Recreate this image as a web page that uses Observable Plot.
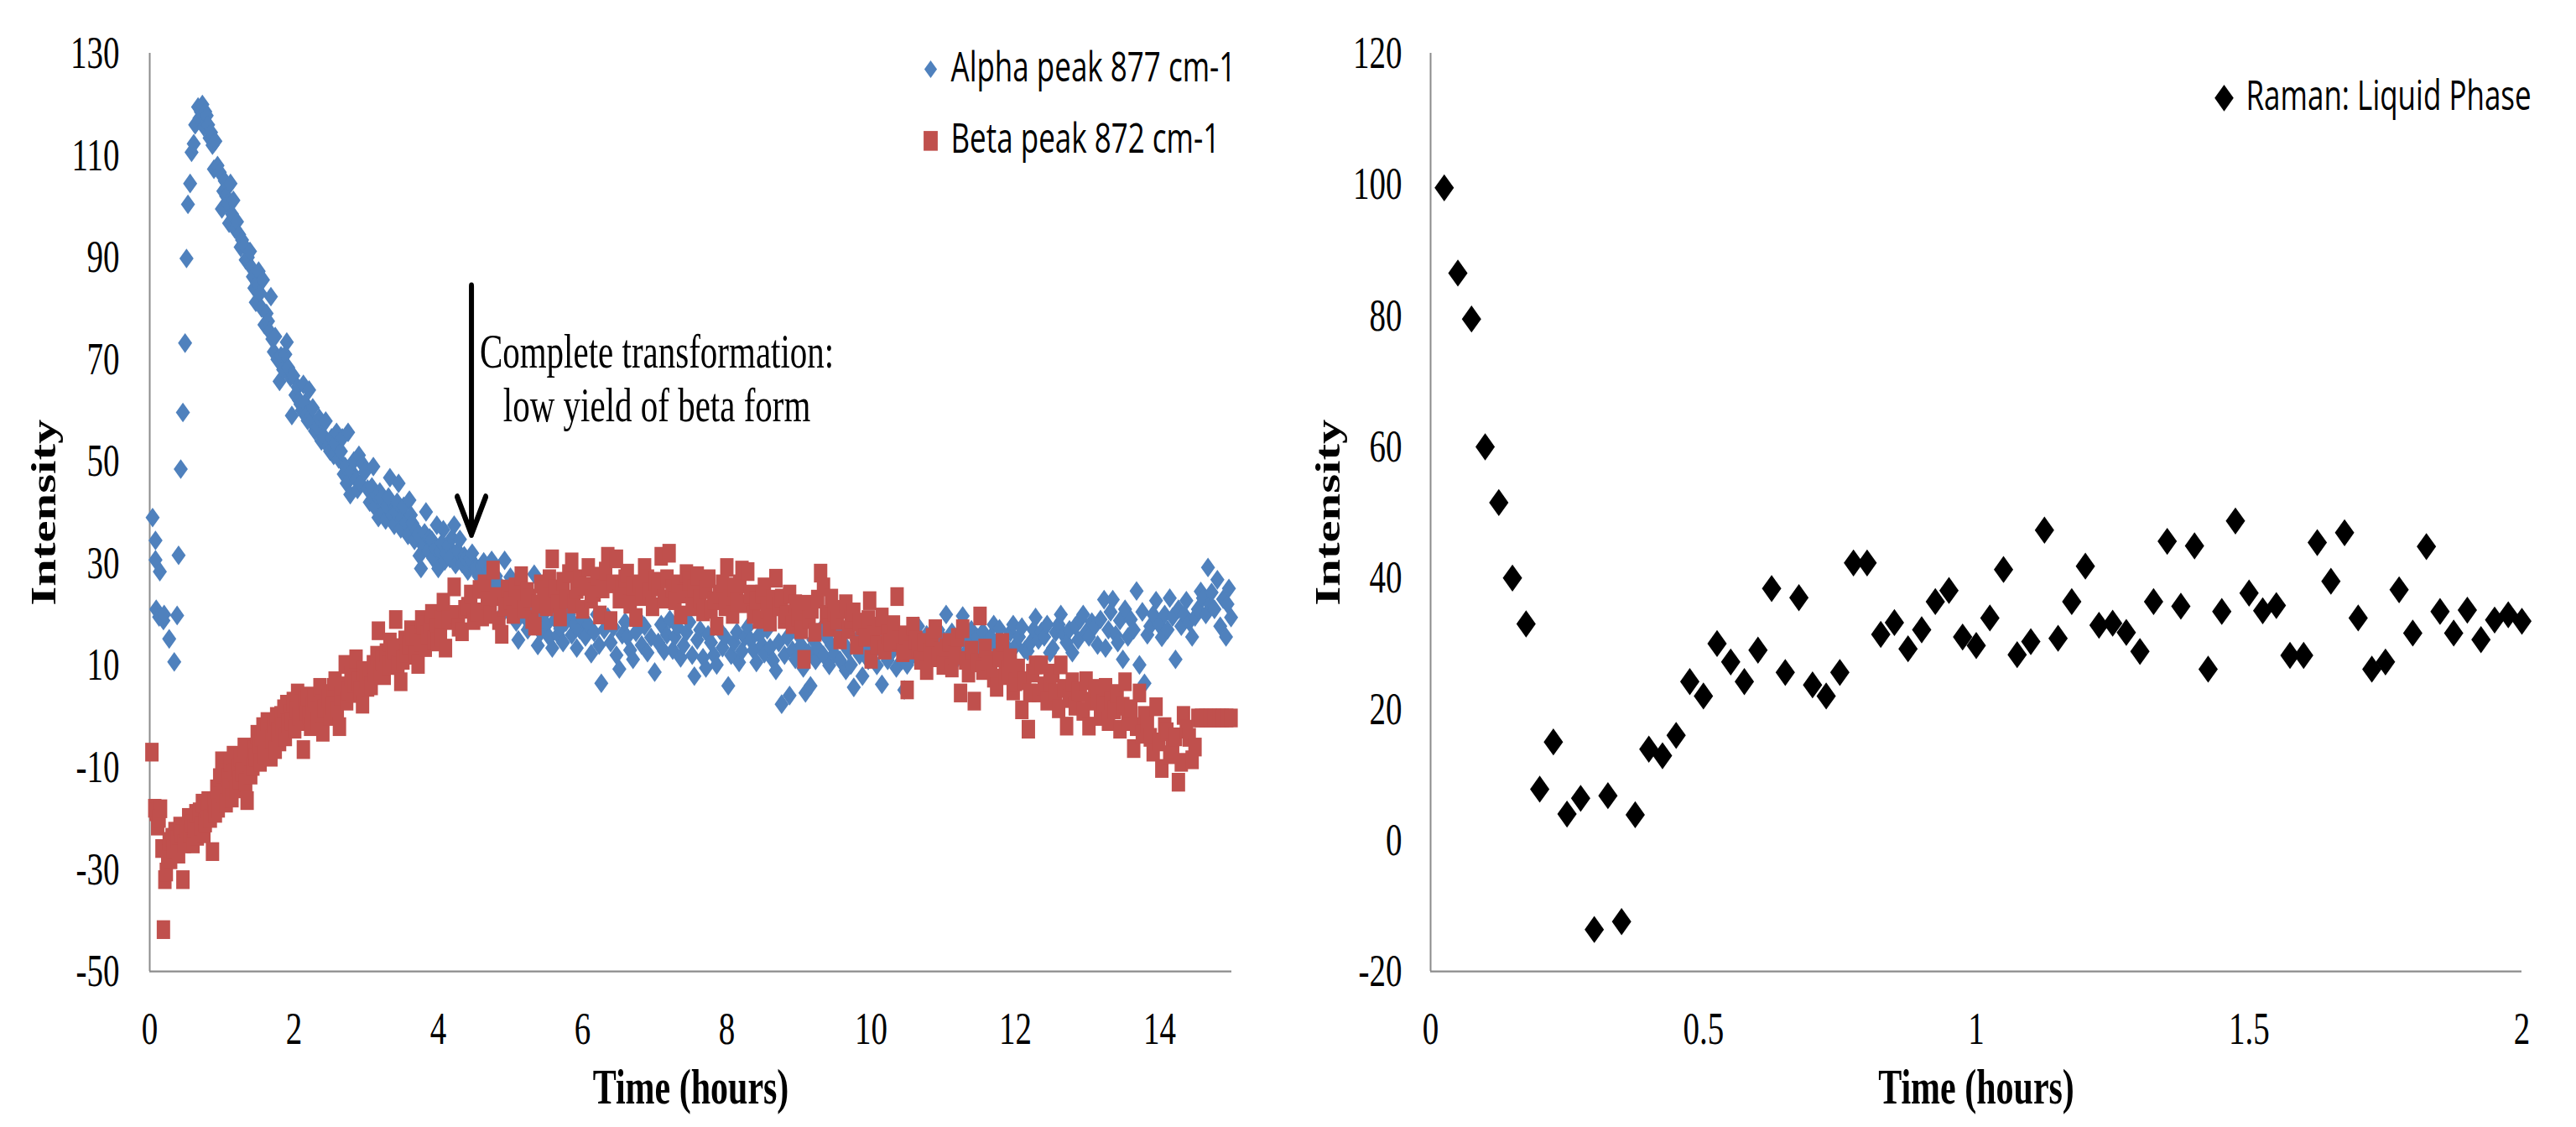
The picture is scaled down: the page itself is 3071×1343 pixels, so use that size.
<!DOCTYPE html>
<html><head><meta charset="utf-8">
<script src="https://cdn.jsdelivr.net/npm/d3@7"></script>
<script src="https://cdn.jsdelivr.net/npm/@observablehq/plot@0.6"></script>
<style>
html,body{margin:0;padding:0;background:#fff;width:3071px;height:1343px;overflow:hidden;}
#left{position:absolute;left:0;top:0;}
#right{position:absolute;left:1540px;top:0;}
</style></head><body>
<div id="left"></div><div id="right"></div>
<script>
// ---------- data (time in hours, intensity) ----------
const alpha = [[0.04,39],[0.08,34.5],[0.08,30.7],[0.14,28.4],[0.09,21],[0.13,19.5],[0.19,18.8],[0.2,20],[0.27,15.2],[0.34,10.7],[0.38,19.8],[0.4,31.6],[0.43,48.5],[0.46,59.6],[0.49,73.2],[0.51,89.8],[0.53,100.4],[0.56,104.5],[0.58,110.6],[0.61,112.3],[0.63,116],[0.67,119.5],[0.69,117.3],[0.71,118.5],[0.73,120],[0.75,115.6],[0.77,118.6],[0.79,117.8],[0.81,116],[0.83,113.4],[0.85,114.5],[0.87,112],[0.89,107.3],[0.91,112.8],[0.94,108],[0.97,106.7],[1.0,99.5],[1.02,103],[1.04,105],[1.06,102],[1.08,100.6],[1.1,96.7],[1.12,104.5],[1.14,98.5],[1.16,101.2],[1.18,95.6],[1.21,97],[1.24,94.5],[1.26,92],[1.28,93.4],[1.31,92.3],[1.33,89.5],[1.36,90],[1.39,91.2],[1.41,88],[1.43,86.2],[1.45,84],[1.47,81.2],[1.49,85],[1.51,87.3],[1.53,83],[1.55,80.1],[1.57,85.6],[1.59,76.8],[1.62,79],[1.64,77.5],[1.66,75.5],[1.68,82.3],[1.7,74],[1.72,71.5],[1.74,74.5],[1.77,70],[1.8,65.7],[1.82,70.7],[1.85,68],[1.88,71],[1.9,73.4],[1.92,68.4],[1.95,66.5],[1.97,59],[1.99,66.8],[2.02,63],[2.05,64.6],[2.07,62],[2.09,61.2],[2.11,60],[2.13,65.1],[2.15,61.5],[2.17,59],[2.19,58],[2.21,64],[2.24,57.9],[2.26,60.5],[2.29,56],[2.32,56.8],[2.35,58.5],[2.38,54],[2.41,55],[2.44,57.9],[2.47,53],[2.5,52],[2.52,54.6],[2.55,51.2],[2.57,53.5],[2.59,55.7],[2.62,50.5],[2.65,52],[2.67,54.6],[2.69,47.5],[2.71,49],[2.73,45.7],[2.75,55.7],[2.78,43.5],[2.8,48],[2.83,50.1],[2.86,46.5],[2.88,44.5],[2.9,51.2],[2.92,45.7],[2.95,49.5],[2.98,47.9],[3.02,44.6],[3.05,42],[3.08,45],[3.1,49],[3.12,41],[3.14,43.5],[3.17,39],[3.19,44],[3.21,42.9],[3.24,40],[3.27,38.5],[3.29,41.2],[3.31,43],[3.33,46.8],[3.36,39.5],[3.39,37.5],[3.41,40.1],[3.43,42],[3.45,45.7],[3.48,36.8],[3.5,39],[3.52,41.2],[3.55,38],[3.58,35.5],[3.6,42.4],[3.62,39.5],[3.64,37.9],[3.67,34.5],[3.7,36.5],[3.72,35.7],[3.74,31.5],[3.76,29],[3.79,33.5],[3.81,36],[3.83,40.1],[3.86,32.5],[3.88,35],[3.91,34.6],[3.93,31],[3.96,33],[3.98,37.5],[4.0,29],[4.03,32.4],[4.05,34],[4.07,36.6],[4.09,30.5],[4.11,32],[4.14,33.5],[4.16,31],[4.19,35],[4.22,37.5],[4.24,29.8],[4.27,32.5],[4.3,34.7],[4.33,30],[4.36,31.5],[4.38,30.9],[4.41,28.5],[4.44,31],[4.47,32],[4.5,29],[4.53,29.2],[4.56,27.5],[4.6,29.5],[4.63,30.3],[4.66,27],[4.7,28.5],[4.74,30.6],[4.76,25.4],[4.8,27.5],[4.84,26],[4.88,19.9],[4.92,30.6],[4.96,24],[5.0,27.3],[5.04,21],[5.08,18.5],[5.11,15],[5.15,22],[5.2,19.5],[5.24,17],[5.27,17.7],[5.31,21],[5.33,27.9],[5.36,19],[5.38,13.9],[5.42,16.5],[5.46,20],[5.5,18],[5.54,15.5],[5.58,13.4],[5.62,19],[5.66,16],[5.69,17.2],[5.73,14.5],[5.77,18.5],[5.81,20],[5.85,16],[5.89,18],[5.92,13.4],[5.96,17],[6.0,19],[6.04,15.6],[6.08,18],[6.12,12.3],[6.16,16.5],[6.2,20],[6.23,14],[6.26,6.5],[6.3,17],[6.35,19.5],[6.39,14.5],[6.43,17.5],[6.47,12],[6.51,9.3],[6.55,16],[6.59,18.5],[6.62,15.6],[6.66,13],[6.7,11.2],[6.74,16.5],[6.78,19],[6.82,14],[6.86,17.7],[6.9,12.5],[6.95,15.5],[7.0,8.7],[7.05,14.5],[7.09,18],[7.13,12.8],[7.17,16],[7.21,19],[7.25,13],[7.28,15.6],[7.32,17.5],[7.36,11.5],[7.4,13.9],[7.44,16.5],[7.48,18.5],[7.52,12],[7.55,7.9],[7.59,15],[7.63,17],[7.67,11.5],[7.71,9.5],[7.74,16],[7.78,14.5],[7.82,12],[7.86,10.1],[7.9,17],[7.94,13.5],[7.98,15.5],[8.02,6],[8.06,12],[8.1,14.5],[8.14,16.5],[8.17,10.6],[8.21,12.8],[8.25,15.5],[8.29,17.5],[8.33,15],[8.37,13],[8.41,10.6],[8.45,16],[8.49,14],[8.52,12.3],[8.56,17],[8.6,13.5],[8.64,11],[8.68,9],[8.72,14.5],[8.76,2.4],[8.8,12],[8.84,15.5],[8.87,4.1],[8.91,13],[8.95,11.2],[8.99,16],[9.03,14],[9.06,9.5],[9.09,4.6],[9.13,12.5],[9.16,6],[9.2,15],[9.23,11],[9.26,13.4],[9.3,17],[9.34,12],[9.38,15.6],[9.42,10],[9.45,14],[9.49,12.3],[9.53,16.5],[9.57,11],[9.61,14.5],[9.65,9],[9.68,13],[9.72,10.1],[9.76,5.7],[9.8,15],[9.84,12],[9.88,7.9],[9.92,14],[9.96,11],[10.0,12.8],[10.04,16],[10.08,10],[10.11,13.5],[10.15,6.3],[10.19,15],[10.23,11],[10.27,12.3],[10.31,16.5],[10.35,9.5],[10.39,13.5],[10.43,11],[10.46,5.2],[10.5,10.1],[10.54,14.5],[10.58,12],[10.62,15.5],[10.65,17.7],[10.69,11.5],[10.73,13.5],[10.77,16],[10.81,15.6],[10.85,12],[10.89,14],[10.93,17],[10.97,11.5],[11.0,15],[11.04,20],[11.08,13],[11.12,16.5],[11.16,13.4],[11.2,11.5],[11.24,15],[11.27,19.7],[11.31,12.5],[11.35,14.5],[11.39,17],[11.43,12],[11.47,15.5],[11.51,13],[11.55,16.6],[11.59,14],[11.62,12],[11.66,15.6],[11.7,18],[11.74,13.5],[11.78,17.2],[11.82,14.5],[11.86,12],[11.89,13.4],[11.93,16.5],[11.97,18],[12.01,14],[12.05,15.6],[12.09,17.5],[12.13,13],[12.17,12.8],[12.21,14.5],[12.25,17],[12.28,19.4],[12.32,15],[12.36,16.6],[12.4,15.6],[12.44,18],[12.48,12.5],[12.52,13.4],[12.56,16.5],[12.6,18],[12.63,20],[12.67,16],[12.71,14.5],[12.75,17],[12.79,12.5],[12.83,17.7],[12.87,15],[12.9,19],[12.94,20],[12.98,16.5],[13.02,15.6],[13.06,18.5],[13.1,17.7],[13.14,14],[13.18,19],[13.23,22.9],[13.25,13.4],[13.29,17],[13.32,20.5],[13.35,22.9],[13.39,16],[13.42,14.5],[13.45,18.8],[13.49,11.2],[13.52,21],[13.56,15.6],[13.6,19],[13.64,17],[13.68,24.6],[13.72,10.1],[13.76,20.5],[13.79,6.5],[13.83,16],[13.87,17.7],[13.91,20],[13.95,22.7],[13.99,18],[14.03,15.5],[14.07,20],[14.11,17],[14.14,23.2],[14.18,19.5],[14.22,11.2],[14.26,21],[14.3,17.7],[14.34,20],[14.37,22.7],[14.41,18.5],[14.45,15.6],[14.49,19.5],[14.53,21],[14.57,24.5],[14.6,23.2],[14.64,20],[14.67,29.2],[14.7,22],[14.72,24.3],[14.76,21],[14.8,26.8],[14.84,17.7],[14.88,23],[14.92,15.6],[14.94,22],[14.96,25.1],[14.99,19.4]];

const beta = [[0.03,-7],[0.07,-18],[0.09,-18.7],[0.11,-21.5],[0.13,-20],[0.15,-18.1],[0.17,-25.9],[0.19,-41.8],[0.21,-32],[0.23,-30.5],[0.25,-27],[0.27,-24.5],[0.29,-28.1],[0.31,-23.7],[0.33,-26],[0.35,-22.5],[0.38,-24.2],[0.4,-27],[0.42,-21.5],[0.44,-23],[0.46,-32],[0.48,-25],[0.5,-22],[0.52,-24.5],[0.54,-19.8],[0.56,-23],[0.58,-21],[0.6,-25],[0.62,-22],[0.64,-19],[0.66,-23.5],[0.69,-18.7],[0.71,-21.5],[0.73,-17],[0.75,-23],[0.77,-20.9],[0.79,-18],[0.81,-16.5],[0.84,-20],[0.87,-26.5],[0.89,-17],[0.91,-19],[0.93,-14.2],[0.95,-18],[0.97,-12],[1.0,-8.7],[1.02,-15],[1.04,-11],[1.06,-17],[1.08,-12],[1.1,-14],[1.12,-9],[1.14,-16],[1.16,-7.6],[1.18,-11],[1.2,-14.2],[1.22,-10],[1.24,-12.5],[1.26,-8],[1.28,-10.9],[1.31,-6],[1.33,-13],[1.35,-16.5],[1.37,-9],[1.4,-11.5],[1.43,-9.8],[1.45,-6.5],[1.47,-8],[1.49,-3.5],[1.51,-5.4],[1.53,-9],[1.55,-4],[1.57,-2],[1.59,-7.6],[1.61,-5],[1.63,-1],[1.66,-3.1],[1.68,-8],[1.7,-4.5],[1.72,-1.5],[1.74,-6.5],[1.76,0],[1.78,-3],[1.8,-5],[1.82,0.2],[1.84,-2],[1.86,1.5],[1.88,-4],[1.9,2.4],[1.92,-1.5],[1.95,0.5],[1.97,-0.9],[1.99,3],[2.01,-2.5],[2.03,1.5],[2.05,4.6],[2.07,0],[2.09,2.5],[2.11,-1],[2.13,-6.5],[2.15,3],[2.17,1],[2.19,4],[2.21,0.2],[2.23,-2],[2.26,2],[2.28,3.5],[2.3,1],[2.33,-1],[2.36,5.7],[2.38,2.5],[2.4,-3.1],[2.42,1.5],[2.45,4.5],[2.48,3.5],[2.5,0],[2.53,2],[2.55,5.7],[2.57,7],[2.6,1],[2.63,-2],[2.65,4],[2.68,6],[2.71,10.2],[2.73,3],[2.76,5],[2.79,8],[2.81,4.5],[2.84,6.5],[2.86,11.3],[2.89,7],[2.92,5],[2.95,2.4],[2.97,9],[3.0,7.5],[3.02,5.7],[3.05,9],[3.07,6],[3.1,10.2],[3.12,8.5],[3.15,12],[3.17,16.8],[3.2,9],[3.22,11],[3.25,8],[3.28,12.5],[3.31,10],[3.33,14.6],[3.36,11.5],[3.39,13],[3.41,19],[3.44,10],[3.46,13.5],[3.48,6.8],[3.51,11],[3.54,15],[3.56,12.4],[3.59,14],[3.62,17],[3.64,15.7],[3.67,12],[3.7,16],[3.72,10.2],[3.75,14.5],[3.77,19],[3.79,17.9],[3.82,13.5],[3.85,16],[3.88,18],[3.91,20.2],[3.94,15],[3.97,17.5],[3.99,14.6],[4.03,15.6],[4.05,19],[4.07,22.4],[4.1,13.4],[4.14,19],[4.18,18.8],[4.22,25.4],[4.25,20],[4.28,17.5],[4.33,16.6],[4.37,21],[4.41,21.6],[4.45,24],[4.49,18.8],[4.53,20.5],[4.57,24.9],[4.61,19.5],[4.64,26],[4.68,22.7],[4.72,20],[4.76,28.7],[4.8,23.5],[4.84,18.8],[4.88,16.1],[4.92,21.5],[4.96,25],[5.0,22.7],[5.04,20],[5.07,25.4],[5.11,23],[5.15,27.6],[5.19,21],[5.23,24.5],[5.27,23.2],[5.3,19],[5.34,17.7],[5.38,22],[5.42,26],[5.46,24.9],[5.5,21.5],[5.54,27],[5.58,30.9],[5.62,25],[5.65,22.1],[5.69,19.5],[5.73,26.5],[5.77,23],[5.81,28],[5.85,30.3],[5.88,22],[5.92,24.9],[5.96,27],[6.0,21],[6.04,25.5],[6.08,29.2],[6.12,23],[6.16,24.3],[6.2,27.5],[6.24,19.9],[6.28,25],[6.32,28.5],[6.35,31.4],[6.39,18.8],[6.43,26],[6.47,30.9],[6.51,23],[6.55,24.9],[6.59,27],[6.62,28.1],[6.66,22],[6.7,25.5],[6.74,19.4],[6.78,26],[6.82,23.5],[6.86,29.2],[6.9,27],[6.93,24.3],[6.97,21.5],[7.01,26.5],[7.05,25.4],[7.09,31.4],[7.13,23],[7.17,27],[7.2,32],[7.24,25],[7.28,22.7],[7.32,26],[7.36,19.9],[7.4,24],[7.44,28],[7.48,26.5],[7.52,21.5],[7.55,25],[7.59,27.6],[7.63,23],[7.67,20.5],[7.71,24.9],[7.75,27],[7.78,21],[7.82,22.7],[7.86,17.7],[7.9,24],[7.94,26],[7.98,21.5],[8.0,29.2],[8.04,23],[8.08,20],[8.1,25.4],[8.14,22.5],[8.18,26],[8.21,28.7],[8.25,22.1],[8.29,28.4],[8.33,24],[8.37,20],[8.41,22.7],[8.45,19],[8.49,24],[8.52,25.4],[8.56,21],[8.6,18.5],[8.64,23],[8.68,27.1],[8.72,21.5],[8.76,23.2],[8.8,19],[8.83,20],[8.87,24],[8.91,18],[8.95,22.1],[8.99,19.5],[9.03,17],[9.07,11.2],[9.11,22],[9.14,19],[9.18,21],[9.22,16.5],[9.26,23],[9.3,28.1],[9.34,25.4],[9.38,20],[9.42,17.5],[9.45,23.2],[9.49,20.5],[9.53,18.8],[9.57,15],[9.61,21],[9.65,22.1],[9.69,17],[9.72,19],[9.76,20.5],[9.8,14],[9.84,18.5],[9.88,17.7],[9.92,15.5],[9.96,19],[9.98,22.7],[10.0,11.2],[10.04,16],[10.08,14],[10.11,17.7],[10.15,19.5],[10.19,13],[10.23,16.1],[10.27,14.5],[10.31,18],[10.36,23.5],[10.4,15],[10.44,12.5],[10.48,16],[10.5,5.2],[10.54,13],[10.58,17.7],[10.62,15],[10.65,13.4],[10.69,11],[10.73,14.5],[10.77,9],[10.81,12.5],[10.85,15.5],[10.89,17.2],[10.93,11.5],[10.97,12.8],[11.0,10],[11.04,13.5],[11.08,14.5],[11.12,9.5],[11.16,12],[11.2,15.5],[11.24,4.6],[11.27,17.2],[11.31,11],[11.35,8.5],[11.39,13],[11.43,3],[11.47,10.5],[11.51,19.7],[11.55,9],[11.58,13.4],[11.62,11],[11.66,10.1],[11.7,7.5],[11.74,5.7],[11.78,11.5],[11.82,14.5],[11.86,8],[11.89,9],[11.93,11.5],[11.97,5],[12.0,6.8],[12.04,9.5],[12.09,1.3],[12.13,7],[12.18,-2.5],[12.2,4.6],[12.24,8.5],[12.28,10.1],[12.32,4.6],[12.36,10.1],[12.4,6],[12.44,3],[12.48,6.8],[12.52,8.5],[12.56,4.6],[12.6,1.5],[12.63,10.1],[12.67,5.5],[12.71,-1.9],[12.75,3.5],[12.79,6.8],[12.83,2],[12.87,5],[12.9,4.6],[12.94,1],[12.98,7],[13.02,-1.9],[13.06,3],[13.1,5.5],[13.14,3.5],[13.18,0],[13.22,2.5],[13.25,5.7],[13.29,-1],[13.33,3],[13.37,1.3],[13.41,4.5],[13.45,-2.5],[13.49,2],[13.52,6.8],[13.56,-1],[13.6,1.5],[13.64,-6.3],[13.68,-2],[13.72,4.6],[13.76,-3.5],[13.79,0.2],[13.83,-1.5],[13.87,-4.1],[13.91,-7],[13.95,1.9],[13.99,-5],[14.03,-10.2],[14.07,-2],[14.1,-3],[14.14,-7.5],[14.18,-6.3],[14.22,-4],[14.26,-12.9],[14.3,-9],[14.33,0.2],[14.37,-2.5],[14.41,-4.1],[14.45,-8.5],[14.49,-6],[14.53,-0.3],[14.58,-0.3],[14.64,-0.3],[14.7,-0.3],[14.76,-0.3],[14.82,-0.3],[14.87,-0.3],[14.93,-0.3],[14.99,-0.3]];

const ramanTime = [0.025,0.05,0.075,0.1,0.125,0.15,0.175,0.2,0.225,0.25,0.275,0.3,0.325,0.35,0.375,0.4,0.425,0.45,0.475,0.5,0.525,0.55,0.575,0.6,0.625,0.65,0.675,0.7,0.725,0.75,0.775,0.8,0.825,0.85,0.875,0.9,0.925,0.95,0.975,1.0,1.025,1.05,1.075,1.1,1.125,1.15,1.175,1.2,1.225,1.25,1.275,1.3,1.325,1.35,1.375,1.4,1.425,1.45,1.475,1.5,1.525,1.55,1.575,1.6,1.625,1.65,1.675,1.7,1.725,1.75,1.775,1.8,1.825,1.85,1.875,1.9,1.925,1.95,1.975,2.0];
const ramanValue = [99.5,86.5,79.5,60,51.5,40,33,7.8,15,4,6.4,-13.6,6.8,-12.4,3.9,13.9,12.9,16,24.2,22,30,27.2,24.2,29,38.4,25.6,37,23.7,22,25.6,42.3,42.3,31.4,33.2,29.2,32.1,36.4,38.1,31,29.7,33.9,41.3,28.3,30.3,47.3,30.8,36.4,41.8,32.8,33.1,31.7,28.8,36.4,45.6,35.7,44.9,26.1,34.9,48.7,37.7,35,35.8,28.2,28.2,45.4,39.5,46.9,33.9,26.1,27.2,38.2,31.6,44.8,34.9,31.6,35.1,30.6,33.6,34.4,33.4];

const leftXDomain = [0, 15], leftYDomain = [-50, 130];
const leftXTicks = [0, 2, 4, 6, 8, 10, 12, 14];
const leftYTicks = [-50, -30, -10, 10, 30, 50, 70, 90, 110, 130];
const rightXDomain = [0, 2], rightYDomain = [-20, 120];
const rightXTicks = [0, 0.5, 1, 1.5, 2];
const rightYTicks = [-20, 0, 20, 40, 60, 80, 100, 120];

const arrowData = [{x: 4.46, from: 84.4, to: 35.7}];
const annotation = [{x: 7.03, y: 66.5, text: "Complete transformation:\nlow yield of beta form"}];
const legendLeft = [
  {label: "Alpha peak 877 cm-1", color: "#4F81BD", symbol: "diamond2", r: 6.8},
  {label: "Beta peak 872 cm-1", color: "#C0504D", symbol: "square", r: 9.5}
];
const legendRight = [{label: "Raman: Liquid Phase", color: "#000000", symbol: "diamond2", r: 10.2}];
const xTitle = "Time (hours)", yTitle = "Intensity";

// ---------- layout ----------
const FULL_H = 1343, HC = 960;           // drawn in a compressed height, then stretched vertically
const serif = "'Liberation Serif','Times New Roman',serif";
const sans = "'Open Sans','Noto Sans',sans-serif";
const axisColor = "#8c8c8c";
const fmt = d => String(d);

function stretch(svg, w) {
  svg.setAttribute("viewBox", `0 0 ${w} ${HC}`);
  svg.setAttribute("preserveAspectRatio", "none");
  svg.setAttribute("width", w);
  svg.setAttribute("height", FULL_H);
  svg.style.cssText = `display:block;width:${w}px;height:${FULL_H}px;max-width:none;background:#fff;overflow:visible;`;
  return svg;
}

function legendMarks(entries, dxSym, dxText, dy0, step) {
  return entries.flatMap((d, i) => [
    Plot.dot([d], {frameAnchor: "top-left", dx: dxSym, dy: dy0 + i * step, symbol: d.symbol, r: d.r, fill: d.color, stroke: "none"}),
    Plot.text([d], {frameAnchor: "top-left", dx: dxText, dy: dy0 - 1 + i * step, text: "label", textAnchor: "start", lineAnchor: "middle", fontFamily: sans, fontSize: 35, fill: "#000"})
  ]);
}

const leftW = 1540;
const leftPlot = Plot.plot({
  width: leftW, height: HC,
  marginLeft: 178, marginRight: leftW - 1468, marginTop: 45, marginBottom: HC - 827,
  x: {domain: leftXDomain}, y: {domain: leftYDomain},
  marks: [
    Plot.axisY(leftYTicks, {tickSize: 0, tickPadding: 36, tickFormat: fmt, fontFamily: serif, fontSize: 39, label: null, fill: "#000"}),
    Plot.axisX(leftXTicks, {tickSize: 0, tickPadding: 34, tickFormat: fmt, fontFamily: serif, fontSize: 39, label: null, fill: "#000"}),
    Plot.ruleX([leftXDomain[0]], {stroke: axisColor, strokeWidth: 2}),
    Plot.ruleY([leftYDomain[0]], {stroke: axisColor, strokeWidth: 1.5}),
    Plot.dot(alpha, {x: d => d[0], y: d => d[1], symbol: "diamond2", r: 7.6, fill: "#4F81BD", stroke: "none"}),
    Plot.dot(beta, {x: d => d[0], y: d => d[1], symbol: "square", r: 9, fill: "#C0504D", stroke: "none"}),
    Plot.arrow(arrowData, {x: "x", y1: "from", y2: "to", stroke: "#000", strokeWidth: 6, headLength: 9, headAngle: 56}),
    Plot.text(annotation, {x: "x", y: "y", text: "text", fontFamily: serif, fontSize: 41, lineHeight: 1.12, lineAnchor: "middle", textAnchor: "middle", fill: "#000"}),
    ...legendMarks(legendLeft, 931, 955, 13.5, 61),
    Plot.text([yTitle], {frameAnchor: "left", rotate: -90, dx: -126, textAnchor: "middle", lineAnchor: "middle", fontFamily: serif, fontWeight: "bold", fontSize: 42, fill: "#000"}),
    Plot.text([xTitle], {frameAnchor: "bottom", lineAnchor: "top", textAnchor: "middle", dy: 83, fontFamily: serif, fontWeight: "bold", fontSize: 42, fill: "#000"})
  ]
});
document.getElementById("left").appendChild(stretch(leftPlot, leftW));

const rightW = 1531;
const raman = ramanTime.map((t, i) => ({t, v: ramanValue[i]}));
const rightPlot = Plot.plot({
  width: rightW, height: HC,
  marginLeft: 165, marginRight: rightW - 1466, marginTop: 45, marginBottom: HC - 827,
  x: {domain: rightXDomain}, y: {domain: rightYDomain},
  marks: [
    Plot.axisY(rightYTicks, {tickSize: 0, tickPadding: 34, tickFormat: fmt, fontFamily: serif, fontSize: 39, label: null, fill: "#000"}),
    Plot.axisX(rightXTicks, {tickSize: 0, tickPadding: 34, tickFormat: fmt, fontFamily: serif, fontSize: 39, label: null, fill: "#000"}),
    Plot.ruleX([rightXDomain[0]], {stroke: axisColor, strokeWidth: 2}),
    Plot.ruleY([rightYDomain[0]], {stroke: axisColor, strokeWidth: 1.5}),
    Plot.dot(raman, {x: "t", y: "v", symbol: "diamond2", r: 10.4, fill: "#000", stroke: "none"}),
    ...legendMarks(legendRight, 946, 972, 38, 0),
    Plot.text([yTitle], {frameAnchor: "left", rotate: -90, dx: -122, textAnchor: "middle", lineAnchor: "middle", fontFamily: serif, fontWeight: "bold", fontSize: 42, fill: "#000"}),
    Plot.text([xTitle], {frameAnchor: "bottom", lineAnchor: "top", textAnchor: "middle", dy: 83, fontFamily: serif, fontWeight: "bold", fontSize: 42, fill: "#000"})
  ]
});
document.getElementById("right").appendChild(stretch(rightPlot, rightW));
</script>
</body></html>
